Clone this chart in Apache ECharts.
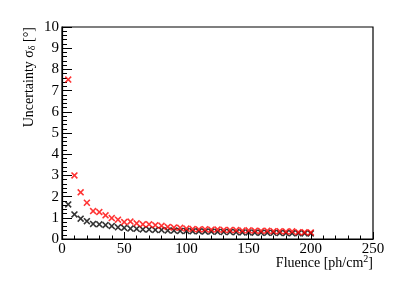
<!DOCTYPE html>
<html>
<head>
<meta charset="utf-8">
<script src="https://cdn.jsdelivr.net/npm/echarts@6/dist/echarts.min.js"></script>
<style>html,body{margin:0;padding:0;background:#fff}#c{width:415px;height:281px}</style>
</head>
<body>
<div id="c"></div>
<script>
var fluence = [5,10,15,20,25,30,35,40,45,50,55,60,65,70,75,80,85,90,95,100,105,110,115,120,125,130,135,140,145,150,155,160,165,170,175,180,185,190,195,200];
var redValues = [7.52,3.0,2.2,1.71,1.32,1.27,1.12,0.99,0.91,0.80,0.82,0.74,0.69,0.69,0.65,0.62,0.57,0.54,0.53,0.49,0.47,0.45,0.46,0.44,0.45,0.43,0.42,0.42,0.40,0.41,0.39,0.38,0.39,0.37,0.37,0.35,0.36,0.32,0.32,0.31];
var blackValues = [1.63,1.16,0.96,0.84,0.71,0.69,0.66,0.61,0.55,0.53,0.49,0.48,0.45,0.45,0.43,0.43,0.40,0.40,0.38,0.38,0.36,0.36,0.35,0.35,0.34,0.33,0.33,0.32,0.31,0.31,0.30,0.30,0.29,0.29,0.28,0.28,0.27,0.27,0.26,0.26];
var xTicks = [0,50,100,150,200,250];
var yTicks = [0,1,2,3,4,5,6,7,8,9,10];

function pairs(xs, ys){ return xs.map(function(x,i){ return [x, ys[i]]; }); }
var cross = 'path://M0,1.6L1.6,0L5,3.4L8.4,0L10,1.6L6.6,5L10,8.4L8.4,10L5,6.6L1.6,10L0,8.4L3.4,5Z';
var font = '"Liberation Serif", "DejaVu Serif", serif';

var chart = echarts.init(document.getElementById('c'), null, {renderer:'canvas'});
chart.setOption({
  animation: false,
  backgroundColor: '#fff',
  grid: {left: 62, right: 42, top: 27, bottom: 42, show: true, borderColor: '#000', borderWidth: 1.2, containLabel: false},
  xAxis: {
    type: 'value', min: 0, max: 250, interval: 50,
    axisLine: {lineStyle: {color: '#000', width: 1.2}},
    axisTick: {inside: true, length: 7, lineStyle: {color: '#000'}},
    minorTick: {show: true, splitNumber: 5, length: 3.5, lineStyle: {color: '#000'}},
    splitLine: {show: false},
    axisLabel: {color: '#000', fontFamily: font, fontSize: 15, margin: 3,
      formatter: function(v){ return xTicks.indexOf(v) >= 0 ? String(v) : ''; }}
  },
  yAxis: {
    type: 'value', min: 0, max: 10, interval: 1,
    axisLine: {lineStyle: {color: '#000', width: 1.2}},
    axisTick: {inside: true, length: 10, lineStyle: {color: '#000'}},
    minorTick: {show: true, splitNumber: 5, length: 5, lineStyle: {color: '#000'}},
    splitLine: {show: false},
    axisLabel: {color: '#000', fontFamily: font, fontSize: 15, margin: 3,
      formatter: function(v){ return yTicks.indexOf(v) >= 0 ? String(v) : ''; }}
  },
  graphic: [
    {type: 'text', x: 29, y: 27, rotation: Math.PI/2,
      style: {text: 'Uncertainty σ{sub|δ} [°]', fill: '#000', font: '14px ' + font, align: 'right', verticalAlign: 'middle',
        rich: {sub: {fontSize: 10, fontFamily: font, fill: '#000', padding: [6,0,0,0]}}}},
    {type: 'text', x: 373, y: 263,
      style: {text: 'Fluence [ph/cm{sup|2}]', fill: '#000', font: '14px ' + font, align: 'right', verticalAlign: 'middle',
        rich: {sup: {fontSize: 10, fontFamily: font, fill: '#000', padding: [0,0,7,0]}}}}
  ],
  series: [
    {type: 'scatter', data: pairs(fluence, blackValues), symbol: cross, symbolSize: 7, itemStyle: {color: '#000'}},
    {type: 'scatter', data: pairs(fluence, redValues), symbol: cross, symbolSize: 7, itemStyle: {color: '#ff0000'}}
  ]
});
</script>
</body>
</html>
